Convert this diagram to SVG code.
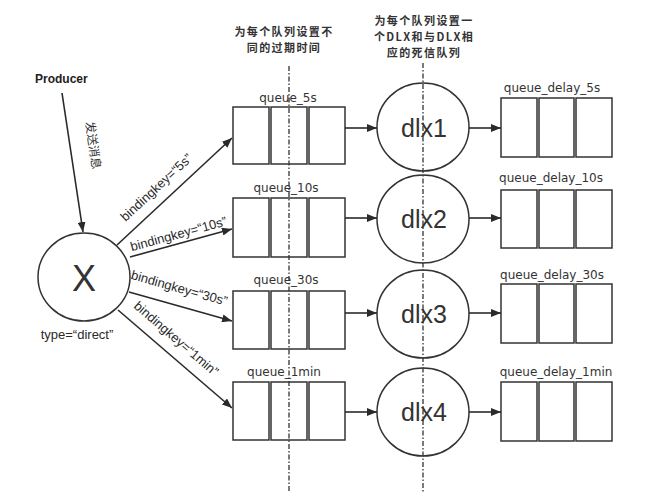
<svg xmlns="http://www.w3.org/2000/svg" width="649" height="497" viewBox="0 0 649 497">
<style>
.cell{fill:none;stroke:#333;stroke-width:1.5}
.circ{fill:none;stroke:#333;stroke-width:1.5}
.conn{stroke:#2a2a2a;stroke-width:1.6;fill:none}
.dash{stroke:#333;stroke-width:1.3;stroke-dasharray:5 2 1.5 2;fill:none}
.ql{font-family:"DejaVu Sans",sans-serif;font-size:12px;fill:#333;text-anchor:middle}
.bk{font-family:"Liberation Sans",Arial,sans-serif;font-size:13px;fill:#2a2a2a;text-anchor:middle}
.dlx{font-family:"Liberation Sans",Arial,sans-serif;font-size:25px;fill:#333;text-anchor:middle}
.title{font-family:"Noto Sans CJK SC",sans-serif;font-size:11px;letter-spacing:1.4px;font-weight:bold;fill:#333;text-anchor:middle}
</style>
<defs>
<marker id="ah" viewBox="0 0 10 8" refX="10" refY="4" markerWidth="10" markerHeight="8" markerUnits="userSpaceOnUse" orient="auto"><path d="M0,0 L10,4 L0,8 z" fill="#2a2a2a"/></marker>
</defs>
<rect width="649" height="497" fill="#fff"/>

<g id="title1">
<text class="title" x="284" y="36">为每个队列设置不</text>
<text class="title" x="284" y="52">同的过期时间</text>
</g>
<g id="title2">
<text class="title" x="424" y="25">为每个队列设置一</text>
<text class="title" x="424" y="41">个DLX和与DLX相</text>
<text class="title" x="424" y="57">应的死信队列</text>
</g>

<g id="producer">
<text x="35" y="83" font-family="Liberation Sans,Arial,sans-serif" font-size="12" font-weight="bold" fill="#222">Producer</text>
</g>

<g id="exchange">
<ellipse class="circ" cx="84" cy="277" rx="46" ry="44"/>
<text x="84" y="291" font-family="Liberation Sans,Arial,sans-serif" font-size="36" fill="#333" text-anchor="middle">X</text>
<text x="77" y="339" font-family="Liberation Sans,Arial,sans-serif" font-size="13" fill="#2a2a2a" text-anchor="middle">type=“direct”</text>
</g>

<g id="queue_5s">
<text class="ql" x="288" y="102">queue_5s</text>
<rect class="cell" x="233" y="107" width="36" height="57"/>
<rect class="cell" x="271" y="107" width="36" height="57"/>
<rect class="cell" x="309" y="107" width="36" height="57"/>
</g>
<g id="queue_10s">
<text class="ql" x="286" y="192">queue_10s</text>
<rect class="cell" x="233" y="198" width="36" height="59"/>
<rect class="cell" x="271" y="198" width="36" height="59"/>
<rect class="cell" x="309" y="198" width="36" height="59"/>
</g>
<g id="queue_30s">
<text class="ql" x="286" y="284">queue_30s</text>
<rect class="cell" x="233" y="291" width="36" height="58"/>
<rect class="cell" x="271" y="291" width="36" height="58"/>
<rect class="cell" x="309" y="291" width="36" height="58"/>
</g>
<g id="queue_1min">
<text class="ql" x="284" y="376">queue_1min</text>
<rect class="cell" x="233" y="382" width="36" height="58"/>
<rect class="cell" x="271" y="382" width="36" height="58"/>
<rect class="cell" x="309" y="382" width="36" height="58"/>
</g>

<g id="dlx1"><ellipse class="circ" cx="423" cy="127" rx="46" ry="44"/><text class="dlx" x="424" y="137">dlx1</text></g>
<g id="dlx2"><ellipse class="circ" cx="423" cy="219" rx="46" ry="44"/><text class="dlx" x="424" y="228">dlx2</text></g>
<g id="dlx3"><ellipse class="circ" cx="423" cy="314" rx="46" ry="44"/><text class="dlx" x="424" y="323">dlx3</text></g>
<g id="dlx4"><ellipse class="circ" cx="423" cy="412" rx="46" ry="44"/><text class="dlx" x="424" y="421">dlx4</text></g>

<g id="queue_delay_5s">
<text class="ql" x="552" y="92">queue_delay_5s</text>
<rect class="cell" x="501" y="98" width="36" height="59"/>
<rect class="cell" x="539" y="98" width="35" height="59"/>
<rect class="cell" x="576" y="98" width="36" height="59"/>
</g>
<g id="queue_delay_10s">
<text class="ql" x="551" y="182">queue_delay_10s</text>
<rect class="cell" x="501" y="190" width="36" height="58"/>
<rect class="cell" x="539" y="190" width="35" height="58"/>
<rect class="cell" x="576" y="190" width="36" height="58"/>
</g>
<g id="queue_delay_30s">
<text class="ql" x="552" y="279">queue_delay_30s</text>
<rect class="cell" x="501" y="284" width="36" height="59"/>
<rect class="cell" x="539" y="284" width="35" height="59"/>
<rect class="cell" x="576" y="284" width="36" height="59"/>
</g>
<g id="queue_delay_1min">
<text class="ql" x="556" y="376">queue_delay_1min</text>
<rect class="cell" x="501" y="382" width="36" height="59"/>
<rect class="cell" x="539" y="382" width="35" height="59"/>
<rect class="cell" x="576" y="382" width="36" height="59"/>
</g>

<g id="connectors">
<line class="conn" x1="62" y1="93" x2="83" y2="232" marker-end="url(#ah)"/>
<text transform="translate(89,146) rotate(81.4)" font-family="Noto Sans CJK SC,sans-serif" font-size="12" fill="#333" text-anchor="middle">发送消息</text>

<line class="conn" x1="117" y1="245" x2="232" y2="138" marker-end="url(#ah)"/>
<text class="bk" transform="translate(166.8,198.7) rotate(-42.9)" y="-11">bindingkey=“5s”</text>

<line class="conn" x1="130" y1="257" x2="232" y2="229" marker-end="url(#ah)"/>
<text class="bk" transform="translate(181,243) rotate(-15.35)" y="-5">bindingkey=“10s”</text>

<line class="conn" x1="129" y1="292" x2="232" y2="321" marker-end="url(#ah)"/>
<text class="bk" transform="translate(174.5,304.8) rotate(15.7)" y="-13">bindingkey=“30s”</text>

<line class="conn" x1="118" y1="310" x2="232" y2="408" marker-end="url(#ah)"/>
<text class="bk" transform="translate(165.6,351) rotate(40.7)" y="-12">bindingkey=“1min”</text>

<line class="conn" x1="345" y1="128" x2="377" y2="128" marker-end="url(#ah)"/>
<line class="conn" x1="345" y1="218" x2="377" y2="218" marker-end="url(#ah)"/>
<line class="conn" x1="345" y1="313" x2="377" y2="313" marker-end="url(#ah)"/>
<line class="conn" x1="345" y1="412" x2="377" y2="412" marker-end="url(#ah)"/>

<line class="conn" x1="469" y1="128" x2="501" y2="128" marker-end="url(#ah)"/>
<line class="conn" x1="469" y1="218" x2="501" y2="218" marker-end="url(#ah)"/>
<line class="conn" x1="469" y1="313" x2="501" y2="313" marker-end="url(#ah)"/>
<line class="conn" x1="469" y1="412" x2="501" y2="412" marker-end="url(#ah)"/>
</g>

<g id="guides">
<line class="dash" x1="289" y1="66" x2="289" y2="492"/>
<line class="dash" x1="423" y1="63" x2="423" y2="492"/>
</g>
</svg>
